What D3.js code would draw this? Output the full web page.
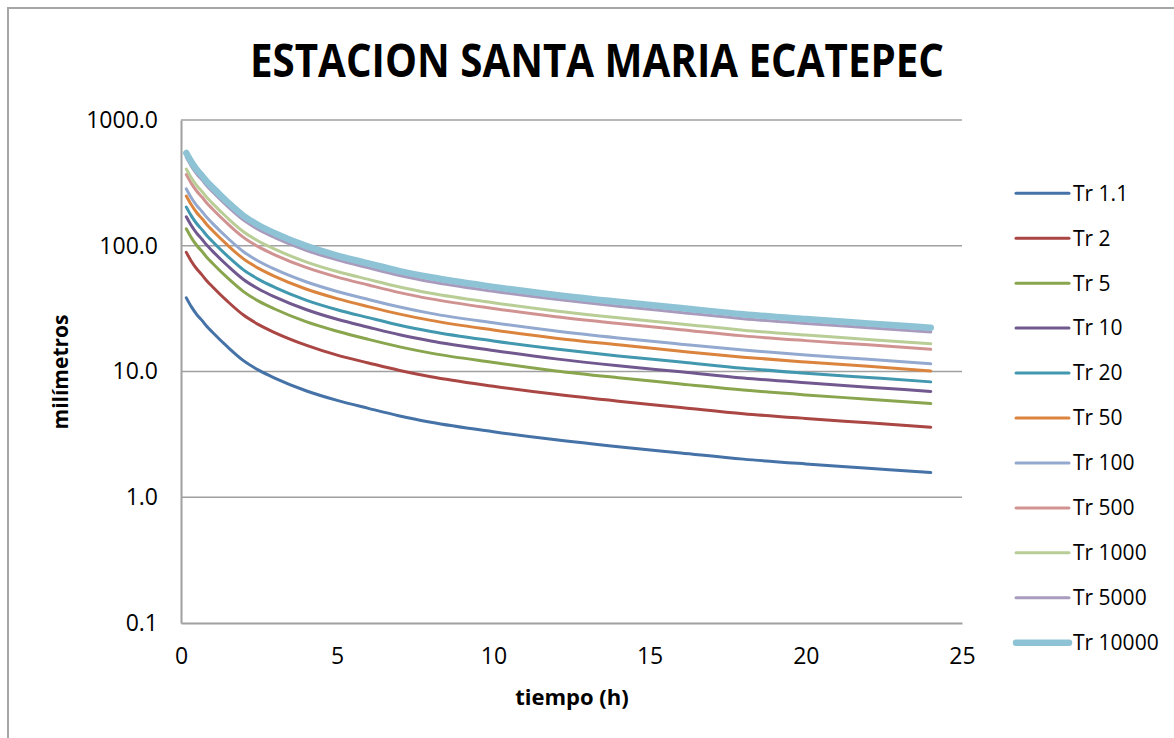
<!DOCTYPE html>
<html>
<head>
<meta charset="utf-8">
<script src="https://cdn.jsdelivr.net/npm/d3@7"></script>
<style>
  html, body { margin: 0; padding: 0; background: #ffffff; }
  svg { display: block; }
</style>
</head>
<body>
<svg id="chart" width="1174" height="738"></svg>
<script>
// ---- Data ----
const title = "ESTACION SANTA MARIA ECATEPEC";
const xTitle = "tiempo (h)";
const yTitle = "milímetros";
const xTicks = [0, 5, 10, 15, 20, 25];
const yTicks = [0.1, 1, 10, 100, 1000];

const times = [0.17, 0.33, 0.5, 0.67, 0.83, 1, 1.5, 2, 2.5, 3, 4, 5, 6, 7, 8, 10, 12, 14, 16, 18, 20, 22, 24];

const seriesNames = ["Tr 1.1", "Tr 2", "Tr 5", "Tr 10", "Tr 20", "Tr 50", "Tr 100", "Tr 500", "Tr 1000", "Tr 5000", "Tr 10000"];
const seriesColors = ["#4572A7", "#AA4643", "#89A54E", "#71588F", "#4198AF", "#DB843D", "#93A9CF", "#D19392", "#B9CD96", "#A99BBD", "#8DC3D5"];

const tr1_1 = [38.5, 32.8, 28.5, 25.5, 22.8, 20.6, 15.6, 12.2, 10.2, 8.86, 7.03, 5.89, 5.09, 4.43, 3.95, 3.32, 2.86, 2.52, 2.25, 2.01, 1.84, 1.70, 1.57];
const tr2 = [88.6, 75.4, 65.6, 58.7, 52.4, 47.4, 35.9, 28.1, 23.5, 20.4, 16.2, 13.5, 11.7, 10.2, 9.09, 7.64, 6.58, 5.80, 5.18, 4.62, 4.23, 3.91, 3.61];
const tr5 = [136.3, 116.1, 100.9, 90.3, 80.7, 72.9, 55.2, 43.2, 36.1, 31.4, 24.9, 20.9, 18.0, 15.7, 14.0, 11.8, 10.1, 8.92, 7.97, 7.12, 6.51, 6.02, 5.56];
const tr10 = [170.2, 145.0, 126.0, 112.7, 100.8, 91.1, 69.0, 53.9, 45.1, 39.2, 31.1, 26.0, 22.5, 19.6, 17.5, 14.7, 12.6, 11.1, 9.95, 8.88, 8.13, 7.51, 6.94];
const tr20 = [202.9, 172.9, 150.2, 134.4, 120.2, 108.6, 82.2, 64.3, 53.8, 46.7, 37.0, 31.0, 26.8, 23.3, 20.8, 17.5, 15.1, 13.3, 11.9, 10.6, 9.70, 8.96, 8.27];
const tr50 = [248.3, 211.6, 183.8, 164.5, 147.1, 132.9, 100.6, 78.7, 65.8, 57.1, 45.3, 38.0, 32.8, 28.6, 25.5, 21.4, 18.4, 16.3, 14.5, 13.0, 11.9, 11.0, 10.1];
const tr100 = [283.0, 241.1, 209.5, 187.4, 167.6, 151.4, 114.7, 89.7, 75.0, 65.1, 51.7, 43.3, 37.4, 32.6, 29.0, 24.4, 21.0, 18.5, 16.5, 14.8, 13.5, 12.5, 11.5];
const tr500 = [368.1, 313.6, 272.5, 243.8, 218.0, 196.9, 149.1, 116.6, 97.5, 84.7, 67.2, 56.3, 48.7, 42.4, 37.8, 31.7, 27.3, 24.1, 21.5, 19.2, 17.6, 16.3, 15.0];
const tr1000 = [408.1, 347.7, 302.1, 270.3, 241.7, 218.4, 165.4, 129.3, 108.1, 93.9, 74.5, 62.4, 54.0, 47.0, 41.9, 35.2, 30.3, 26.7, 23.9, 21.3, 19.5, 18.0, 16.6];
const tr5000 = [504.4, 429.7, 373.4, 334.1, 298.7, 269.9, 204.4, 159.8, 133.6, 116.1, 92.1, 77.2, 66.7, 58.0, 51.7, 43.5, 37.5, 33.0, 29.5, 26.3, 24.1, 22.3, 20.6];
const tr10000 = [546.7, 465.8, 404.7, 362.1, 323.8, 292.5, 221.5, 173.2, 144.8, 125.8, 99.8, 83.6, 72.3, 62.9, 56.1, 47.1, 40.6, 35.8, 32.0, 28.5, 26.1, 24.1, 22.3];

const seriesValues = [tr1_1, tr2, tr5, tr10, tr20, tr50, tr100, tr500, tr1000, tr5000, tr10000];

// ---- Layout ----
const svg = d3.select("#chart");
const W = 1174, H = 738;
const plot = { left: 181, right: 962, top: 120, bottom: 623 };
const gridColor = "#a0a0a0";
const font = "'Open Sans', 'Noto Sans', sans-serif";

// outer chart border (only top and left visible)
svg.append("rect")
  .attr("x", 8).attr("y", 8)
  .attr("width", W + 20).attr("height", H + 20)
  .attr("fill", "#ffffff")
  .attr("stroke", "#a6a6a6").attr("stroke-width", 2);

const x = d3.scaleLinear().domain([0, 25]).range([plot.left, plot.right]);
const y = d3.scaleLog().domain([0.1, 1000]).range([plot.bottom, plot.top]);

// gridlines
svg.append("g")
  .selectAll("line")
  .data(yTicks.filter(d => d > 0.1))
  .join("line")
  .attr("x1", plot.left).attr("x2", plot.right)
  .attr("y1", d => y(d)).attr("y2", d => y(d))
  .attr("stroke", gridColor).attr("stroke-width", 1.6);

// y axis
const yAxis = d3.axisLeft(y).tickValues(yTicks).tickFormat(d3.format(".1f")).tickSize(0).tickPadding(23);
const gy = svg.append("g").attr("transform", `translate(${plot.left},0)`).call(yAxis);
gy.select(".domain").attr("stroke", gridColor).attr("stroke-width", 2);
gy.selectAll("text").attr("font-family", font).attr("font-size", 23).attr("fill", "#000");

// x axis
const xAxis = d3.axisBottom(x).tickValues(xTicks).tickFormat(d3.format("d")).tickSize(0).tickPadding(25);
const gx = svg.append("g").attr("transform", `translate(0,${plot.bottom})`).call(xAxis);
gx.select(".domain").attr("stroke", gridColor).attr("stroke-width", 2);
gx.selectAll("text").attr("font-family", font).attr("font-size", 23).attr("fill", "#000");

// lines
const line = d3.line()
  .x(d => x(d[0]))
  .y(d => y(d[1]))
  .curve(d3.curveMonotoneX);

const gLines = svg.append("g");
seriesNames.forEach((name, i) => {
  const pts = times.map((t, j) => [t, seriesValues[i][j]]);
  gLines.append("path")
    .datum(pts)
    .attr("d", line)
    .attr("fill", "none")
    .attr("stroke", seriesColors[i])
    .attr("stroke-width", i === seriesNames.length - 1 ? 6.5 : 3)
    .attr("stroke-linejoin", "round")
    .attr("stroke-linecap", "round");
});

// title
svg.append("text")
  .attr("x", 597).attr("y", 77)
  .attr("text-anchor", "middle")
  .attr("font-family", font)
  .attr("font-weight", "bold")
  .attr("font-size", 46)
  .attr("textLength", 694)
  .attr("lengthAdjust", "spacingAndGlyphs")
  .attr("fill", "#000")
  .text(title);

// axis titles
svg.append("text")
  .attr("x", 572).attr("y", 705)
  .attr("text-anchor", "middle")
  .attr("font-family", font)
  .attr("font-weight", "bold")
  .attr("font-size", 22)
  .attr("fill", "#000")
  .text(xTitle);

svg.append("text")
  .attr("transform", "translate(68,372) rotate(-90)")
  .attr("text-anchor", "middle")
  .attr("font-family", font)
  .attr("font-weight", "bold")
  .attr("font-size", 21)
  .attr("fill", "#000")
  .text(yTitle);

// legend
const legend = svg.append("g");
const legY0 = 193.3, legStep = 44.94;
seriesNames.forEach((name, i) => {
  const yy = legY0 + i * legStep;
  legend.append("line")
    .attr("x1", 1016).attr("x2", 1069)
    .attr("y1", yy).attr("y2", yy)
    .attr("stroke", seriesColors[i])
    .attr("stroke-width", i === seriesNames.length - 1 ? 6.5 : 3)
    .attr("stroke-linecap", "round");
  legend.append("text")
    .attr("x", 1073).attr("y", yy)
    .attr("dy", "0.35em")
    .attr("font-family", font)
    .attr("font-size", 21)
    .attr("fill", "#000")
    .text(name);
});
</script>
</body>
</html>
